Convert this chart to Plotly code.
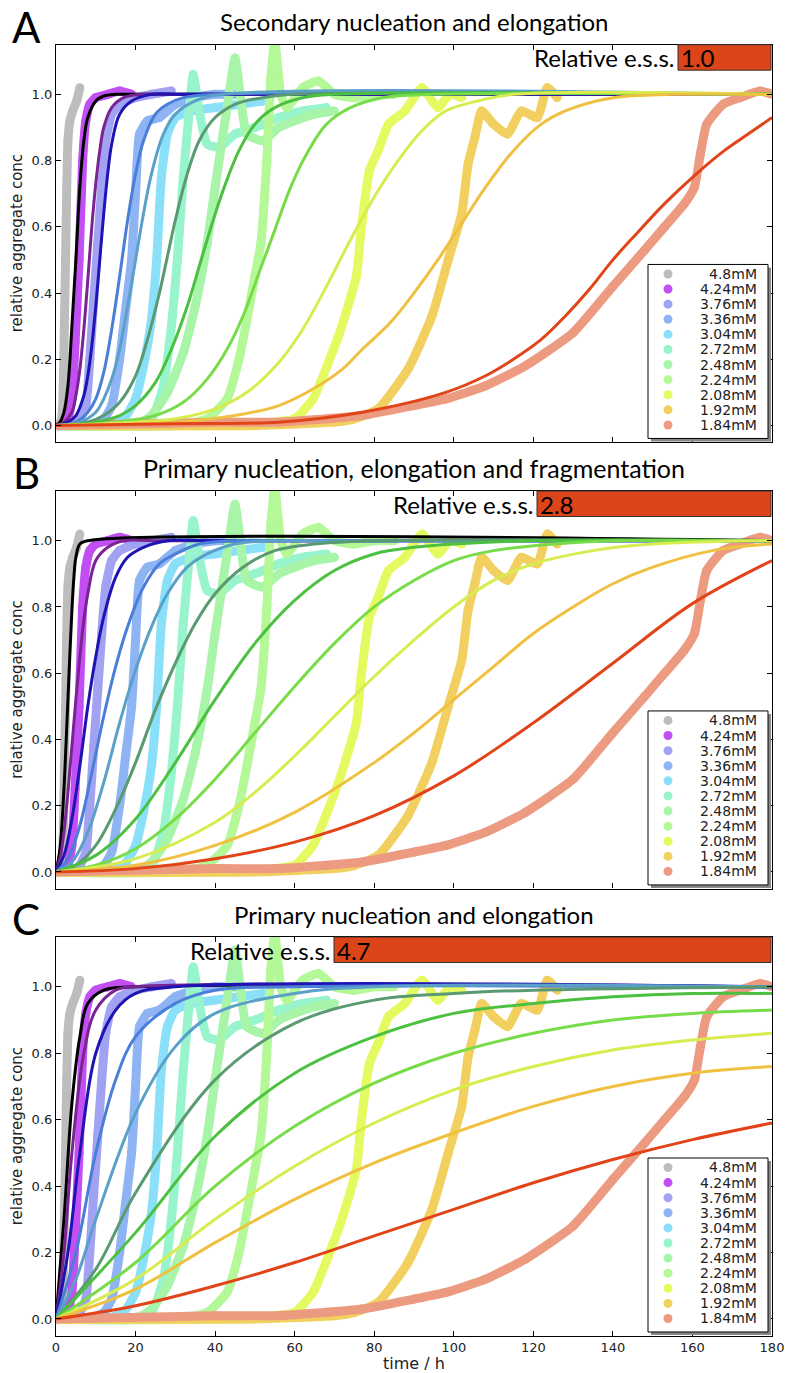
import plotly.graph_objects as go

# ---------------- data ----------------
conc_labels = ["4.8mM", "4.24mM", "3.76mM", "3.36mM", "3.04mM", "2.72mM",
               "2.48mM", "2.24mM", "2.08mM", "1.92mM", "1.84mM"]

data_colors = ["#bdbdbd", "#c24ff2", "#a2a2f2", "#8fb4f4", "#8ae0f8", "#98f4cc",
               "#a8f4a8", "#b4f898", "#e4fa60", "#f2d060", "#ec9a80"]
fit_colors = ["#000000", "#7a2494", "#1e14b4", "#4a7fd8", "#5aa0c8", "#5a9a72",
              "#4cc040", "#78dc48", "#d8ec50", "#f0c040", "#e04418"]

# measured data (t in h, relative aggregate conc)
exp_t = [
    [0, 0.7, 1.4, 1.8, 2.1, 2.4, 2.7, 3.0, 3.5, 4.2, 5.2, 6.0],
    [0, 2, 3, 4, 4.8, 5.8, 6.7, 7.5, 8.5, 10, 13, 16, 19],
    [0, 4, 6, 7.5, 8.5, 9.5, 10.5, 11.5, 12.5, 14, 16, 20, 24, 29],
    [0, 8, 12, 14, 16, 17.5, 19, 20, 21, 23, 26, 30, 35, 40, 45],
    [0, 12, 17, 20, 22, 24, 25.3, 26.5, 28, 30, 34, 40, 46, 52],
    [0, 18, 24, 27, 29, 30.5, 32, 33.5, 34.5, 36, 38, 41, 45, 50, 56, 62, 68],
    [0, 20, 24, 28, 32, 35, 38, 40, 42, 43.5, 45, 46.5, 48, 52, 56, 60, 65, 70],
    [0, 30, 38, 43, 46, 48, 50, 51.5, 53, 54, 55, 56.5, 58, 62, 66, 70, 75, 80, 85],
    [0, 40, 55, 60, 64.6, 71.3, 75.5, 76.7, 78.8, 81, 83.6, 87.7, 92, 96, 99, 102],
    [0, 50, 70, 75, 81, 88.5, 94.5, 98.6, 102, 103.6, 105.3, 107, 110, 113.5, 117, 121, 123.5, 126],
    [0, 40, 56, 77, 90, 98, 108, 118, 130, 140, 148, 153, 158, 160.5, 162, 163.6, 167.7, 172, 177, 180],
]
exp_v = [
    [0, 0.0, 0.02, 0.1, 0.3, 0.5, 0.72, 0.86, 0.92, 0.95, 0.98, 1.02],
    [0, 0.0, 0.02, 0.08, 0.25, 0.5, 0.8, 0.92, 0.97, 0.99, 1.0, 1.01, 1.0],
    [0, 0.0, 0.02, 0.06, 0.2, 0.38, 0.55, 0.72, 0.86, 0.94, 0.97, 0.99, 1.0, 1.01],
    [0, 0.0, 0.02, 0.06, 0.2, 0.35, 0.5, 0.7, 0.88, 0.92, 0.93, 0.97, 0.99, 1.0, 1.0],
    [0, 0.0, 0.02, 0.08, 0.18, 0.32, 0.5, 0.75, 0.88, 0.93, 0.95, 0.96, 0.97, 0.98],
    [0, 0.0, 0.02, 0.12, 0.3, 0.5, 0.75, 0.95, 1.06, 0.95, 0.85, 0.84, 0.88, 0.9, 0.93, 0.95, 0.96],
    [0, 0.0, 0.03, 0.1, 0.22, 0.36, 0.55, 0.72, 0.88, 1.0, 1.11, 0.98, 0.88, 0.86, 0.9, 0.92, 0.94, 0.95],
    [0, 0.0, 0.02, 0.08, 0.2, 0.32, 0.45, 0.55, 0.8, 1.05, 1.16, 1.0, 0.96, 1.02, 1.04, 1.0, 0.99, 1.0, 1.0],
    [0, 0.0, 0.01, 0.02, 0.08, 0.28, 0.45, 0.59, 0.77, 0.83, 0.91, 0.95, 1.02, 0.96, 1.0, 0.99],
    [0, 0.0, 0.01, 0.02, 0.05, 0.17, 0.33, 0.5, 0.64, 0.79, 0.87, 0.95, 0.91, 0.88, 0.95, 0.93, 1.02, 0.99],
    [0, 0.01, 0.01, 0.03, 0.06, 0.08, 0.12, 0.18, 0.28, 0.42, 0.53, 0.6, 0.67, 0.72, 0.82, 0.91, 0.97, 0.99, 1.01, 1.0],
]

# fitted model curves, panel A: secondary nucleation and elongation
fitA_t = [
    [0, 1, 2, 3, 4, 5, 6, 7, 8, 10, 12, 15, 20, 30, 180],
    [0, 2, 4, 5, 6, 7, 8, 9, 10, 11, 12, 14, 17, 22, 30, 180],
    [0, 3, 5, 7, 8, 9, 10, 11, 12, 13, 14, 16, 19, 24, 32, 180],
    [0, 5, 8, 10, 12, 14, 16, 18, 20, 22, 25, 28, 32, 40, 180],
    [0, 6, 10, 12, 14, 16, 18, 20, 22, 24, 27, 30, 35, 42, 180],
    [0, 8, 12, 16, 20, 23, 26, 28, 30, 33, 36, 40, 45, 52, 60, 180],
    [0, 10, 16, 20, 25, 29, 33, 36, 39, 42, 46, 50, 55, 62, 70, 180],
    [0, 15, 25, 32, 38, 43, 47, 51, 55, 59, 63, 68, 74, 82, 95, 180],
    [0, 20, 30, 40, 48, 56, 62, 68, 74, 80, 86, 92, 98, 106, 115, 180],
    [0, 30, 45, 56, 64.6, 72, 77, 84, 90, 96, 102, 108, 115, 122, 128, 140, 155, 180],
    [0, 30, 56, 77, 98, 108, 115, 122, 128, 134, 140, 146, 153, 161, 168, 174, 180],
]
fitA_v = [
    [0, 0.01, 0.04, 0.12, 0.3, 0.5, 0.72, 0.86, 0.93, 0.98, 0.995, 1, 1, 1, 1],
    [0, 0.01, 0.04, 0.09, 0.17, 0.29, 0.44, 0.6, 0.73, 0.83, 0.9, 0.96, 0.99, 1, 1, 1],
    [0, 0.01, 0.03, 0.09, 0.15, 0.24, 0.36, 0.5, 0.64, 0.76, 0.85, 0.94, 0.98, 1, 1, 1],
    [0, 0.01, 0.04, 0.08, 0.16, 0.29, 0.45, 0.62, 0.76, 0.86, 0.94, 0.97, 0.99, 1, 1],
    [0, 0.01, 0.04, 0.08, 0.14, 0.23, 0.36, 0.5, 0.64, 0.76, 0.88, 0.94, 0.98, 1, 1],
    [0, 0.01, 0.03, 0.07, 0.15, 0.26, 0.4, 0.51, 0.62, 0.76, 0.86, 0.93, 0.97, 0.99, 1, 1],
    [0, 0.01, 0.03, 0.06, 0.13, 0.23, 0.36, 0.48, 0.6, 0.71, 0.83, 0.91, 0.96, 0.99, 1, 1],
    [0, 0.01, 0.03, 0.07, 0.14, 0.23, 0.33, 0.46, 0.59, 0.72, 0.82, 0.91, 0.96, 0.99, 1, 1],
    [0, 0.01, 0.02, 0.05, 0.1, 0.19, 0.29, 0.42, 0.56, 0.69, 0.8, 0.89, 0.95, 0.98, 1, 1],
    [0, 0.01, 0.03, 0.06, 0.11, 0.17, 0.23, 0.31, 0.4, 0.5, 0.61, 0.72, 0.83, 0.91, 0.95, 0.99, 1, 1],
    [0, 0.005, 0.01, 0.04, 0.1, 0.15, 0.2, 0.26, 0.33, 0.41, 0.5, 0.58, 0.67, 0.76, 0.83, 0.88, 0.93],
]

# panel B: primary nucleation, elongation and fragmentation
fitB_t = [
    [0, 1, 2, 2.5, 3, 3.5, 4, 4.5, 5, 6, 8, 180],
    [0, 1, 2, 3, 4, 5, 6, 7, 8, 10, 13, 17, 25, 180],
    [0, 2, 4, 6, 8, 10, 12, 15, 18, 22, 28, 40, 180],
    [0, 3, 6, 9, 12, 15, 18, 22, 26, 30, 36, 45, 60, 180],
    [0, 4, 8, 12, 16, 20, 24, 28, 33, 38, 45, 55, 70, 180],
    [0, 5, 10, 15, 20, 25, 30, 35, 40, 47, 55, 65, 80, 180],
    [0, 10, 20, 30, 40, 50, 60, 70, 80, 90, 100, 120, 180],
    [0, 10, 20, 30, 40, 50, 60, 70, 80, 90, 100, 110, 125, 140, 180],
    [0, 20, 40, 50, 60, 70, 80, 90, 100, 110, 120, 135, 150, 180],
    [0, 20, 40, 60, 80, 90, 100, 110, 120, 130, 140, 150, 165, 180],
    [0, 20, 40, 60, 80, 100, 120, 140, 160, 180],
]
fitB_v = [
    [0, 0.07, 0.25, 0.38, 0.52, 0.66, 0.79, 0.89, 0.95, 0.99, 1, 1],
    [0, 0.04, 0.12, 0.24, 0.38, 0.52, 0.65, 0.76, 0.84, 0.94, 0.98, 1, 1, 1],
    [0, 0.05, 0.16, 0.32, 0.5, 0.65, 0.77, 0.89, 0.95, 0.98, 1, 1, 1],
    [0, 0.04, 0.14, 0.3, 0.47, 0.62, 0.74, 0.86, 0.93, 0.96, 0.99, 1, 1, 1],
    [0, 0.03, 0.12, 0.27, 0.45, 0.61, 0.74, 0.84, 0.92, 0.96, 0.99, 1, 1, 1],
    [0, 0.02, 0.08, 0.19, 0.33, 0.49, 0.63, 0.75, 0.84, 0.92, 0.97, 0.99, 1, 1],
    [0, 0.05, 0.16, 0.33, 0.52, 0.69, 0.82, 0.91, 0.96, 0.98, 0.99, 1, 1],
    [0, 0.02, 0.07, 0.16, 0.28, 0.42, 0.56, 0.69, 0.8, 0.88, 0.94, 0.97, 0.99, 1, 1],
    [0, 0.04, 0.15, 0.24, 0.35, 0.47, 0.59, 0.7, 0.8, 0.88, 0.93, 0.97, 0.99, 1],
    [0, 0.02, 0.08, 0.18, 0.33, 0.42, 0.52, 0.62, 0.72, 0.8, 0.87, 0.92, 0.97, 0.99],
    [0, 0.01, 0.04, 0.09, 0.17, 0.29, 0.45, 0.63, 0.81, 0.94],
]

# panel C: primary nucleation and elongation
fitC_t = [
    [0, 2, 4, 6, 8, 12, 20, 180],
    [0, 2, 4, 7, 10, 15, 20, 180],
    [0, 3, 6, 10, 15, 20, 30, 180],
    [0, 5, 10, 15, 20, 30, 40, 60, 180],
    [0, 5, 10, 20, 30, 40, 60, 80, 180],
    [0, 10, 20, 40, 60, 80, 100, 120, 180],
    [0, 20, 40, 60, 80, 100, 120, 140, 160, 180],
    [0, 20, 40, 60, 80, 100, 120, 140, 160, 180],
    [0, 20, 40, 60, 80, 100, 120, 140, 160, 180],
    [0, 20, 40, 60, 80, 100, 120, 140, 160, 180],
    [0, 20, 40, 60, 80, 100, 120, 140, 160, 180],
]
fitC_v = [
    [0, 0.3, 0.65, 0.85, 0.95, 0.99, 1, 1],
    [0, 0.2, 0.5, 0.8, 0.93, 0.99, 1, 1],
    [0, 0.2, 0.5, 0.8, 0.93, 0.98, 1, 1],
    [0, 0.2, 0.5, 0.72, 0.85, 0.95, 0.99, 1, 1],
    [0, 0.12, 0.3, 0.62, 0.82, 0.92, 0.98, 1, 1],
    [0, 0.15, 0.38, 0.72, 0.89, 0.96, 0.98, 0.99, 1.0],
    [0, 0.26, 0.55, 0.74, 0.85, 0.92, 0.95, 0.97, 0.98, 0.98],
    [0, 0.17, 0.4, 0.58, 0.71, 0.8, 0.86, 0.9, 0.92, 0.93],
    [0, 0.12, 0.3, 0.46, 0.59, 0.69, 0.76, 0.81, 0.84, 0.86],
    [0, 0.09, 0.23, 0.36, 0.47, 0.56, 0.64, 0.7, 0.74, 0.76],
    [0, 0.04, 0.1, 0.17, 0.25, 0.33, 0.41, 0.48, 0.54, 0.59],
]

panel_titles = ["Secondary nucleation and elongation",
                "Primary nucleation, elongation and fragmentation",
                "Primary nucleation and elongation"]
panel_letters = ["A", "B", "C"]
ess_values = ["1.0", "2.8", "4.7"]

x_ticks = [0, 20, 40, 60, 80, 100, 120, 140, 160, 180]
y_ticks = [0.0, 0.2, 0.4, 0.6, 0.8, 1.0]

# ---------------- layout constants (pixels) ----------------
W, H = 785, 1373
PLOT_L, PLOT_R = 56, 772
PANEL_TOP = [44.7, 491.0, 937.0]
PANEL_BOT = [442.0, 888.5, 1335.6]
ESS_BOX_W = [93, 234, 437]
TITLE_Y = [22, 468, 914]
TITLE_SIZE = [24, 25, 24]
Y_RANGE = [-0.05, 1.15]

def fx(px):
    return px / W

def fy(py):
    return 1 - py / H

fits = [(fitA_t, fitA_v), (fitB_t, fitB_v), (fitC_t, fitC_v)]

fig = go.Figure()
shapes = []
annotations = []
TXT_FONT = "Lato, 'Open Sans', sans-serif"
MPL_FONT = "'DejaVu Sans', sans-serif"

for p in range(3):
    xa = "x" if p == 0 else f"x{p+1}"
    ya = "y" if p == 0 else f"y{p+1}"
    # measured data
    for i in range(len(conc_labels)):
        fig.add_trace(go.Scatter(
            x=exp_t[i], y=exp_v[i], xaxis=xa, yaxis=ya,
            mode="lines+markers", line=dict(color=data_colors[i], width=9, shape="spline", smoothing=0.5),
            marker=dict(color=data_colors[i], size=9),
            showlegend=False, hoverinfo="skip"))
    # fits
    ft, fv = fits[p]
    for i in range(len(conc_labels)):
        fig.add_trace(go.Scatter(
            x=ft[i], y=fv[i], xaxis=xa, yaxis=ya, mode="lines",
            line=dict(color=fit_colors[i], width=3, shape="spline", smoothing=1.0),
            showlegend=False, hoverinfo="skip"))

    top, bot = PANEL_TOP[p], PANEL_BOT[p]
    axis_common = dict(showgrid=False, zeroline=False, showline=True, linecolor="black",
                       linewidth=1.2, mirror="ticks", ticks="inside", ticklen=5,
                       tickcolor="black", tickwidth=1, automargin=False)
    xkey = "xaxis" if p == 0 else f"xaxis{p+1}"
    ykey = "yaxis" if p == 0 else f"yaxis{p+1}"
    fig.update_layout(**{
        xkey: dict(domain=[fx(PLOT_L), fx(PLOT_R)], range=[0, 180], tickvals=x_ticks,
                   ticktext=[str(v) for v in x_ticks], showticklabels=(p == 2),
                   anchor=ya, tickfont=dict(family=MPL_FONT, size=13, color="#222"), **axis_common),
        ykey: dict(domain=[fy(bot), fy(top)], range=Y_RANGE, tickvals=y_ticks,
                   ticktext=[f"{v:.1f}" for v in y_ticks], anchor=xa,
                   tickfont=dict(family=MPL_FONT, size=13, color="#222"), **axis_common),
    })

    # panel letter and title
    annotations.append(dict(x=fx(26), y=fy(TITLE_Y[p] - 22), xref="paper", yref="paper",
                            text=panel_letters[p], showarrow=False, xanchor="center", yanchor="top",
                            font=dict(family="Lato, sans-serif", size=42, color="black")))
    annotations.append(dict(x=fx((PLOT_L + PLOT_R) / 2), y=fy(TITLE_Y[p]), xref="paper", yref="paper",
                            text=panel_titles[p], showarrow=False, xanchor="center", yanchor="middle",
                            font=dict(family=TXT_FONT, size=TITLE_SIZE[p], color="black")))
    # y label
    annotations.append(dict(x=fx(17), y=fy((top + bot) / 2), xref="paper", yref="paper",
                            text="relative aggregate conc", textangle=-90, showarrow=False,
                            xanchor="center", yanchor="middle",
                            font=dict(family=MPL_FONT, size=15, color="#222")))

    # relative e.s.s. box
    box_r = 771
    box_l = box_r - ESS_BOX_W[p]
    shapes.append(dict(type="rect", xref="paper", yref="paper",
                       x0=fx(box_l), x1=fx(box_r), y0=fy(top + 25.5), y1=fy(top),
                       fillcolor="#dc4419", line=dict(color="#333", width=1), layer="above"))
    annotations.append(dict(x=fx(box_l + 1), y=fy(top + 13), xref="paper", yref="paper",
                            text=ess_values[p], showarrow=False, xanchor="left", yanchor="middle",
                            font=dict(family=TXT_FONT, size=24, color="black")))
    annotations.append(dict(x=fx(box_l - 2), y=fy(top + 13), xref="paper", yref="paper",
                            text="Relative e.s.s.", showarrow=False, xanchor="right", yanchor="middle",
                            font=dict(family=TXT_FONT, size=24, color="black")))

    # legend (manual)
    zero_y = bot - 0.05 / 1.2 * (bot - top)
    lg_top, lg_bot = zero_y - 161, zero_y + 13
    lg_l, lg_r = 648, 768
    shapes.append(dict(type="rect", xref="paper", yref="paper",
                       x0=fx(lg_l + 3), x1=fx(lg_r + 3), y0=fy(lg_bot + 3), y1=fy(lg_top + 3),
                       fillcolor="#888888", line=dict(width=0), layer="above"))
    shapes.append(dict(type="rect", xref="paper", yref="paper",
                       x0=fx(lg_l), x1=fx(lg_r), y0=fy(lg_bot), y1=fy(lg_top),
                       fillcolor="white", line=dict(color="black", width=1), layer="above"))
    for i, lab in enumerate(conc_labels):
        ry = lg_top + 9.5 + 15.1 * i
        shapes.append(dict(type="circle", xref="paper", yref="paper",
                           x0=fx(668 - 4.5), x1=fx(668 + 4.5), y0=fy(ry + 4.5), y1=fy(ry - 4.5),
                           fillcolor=data_colors[i], line=dict(width=0), layer="above"))
        annotations.append(dict(x=fx(759), y=fy(ry), xref="paper", yref="paper", text=lab,
                                showarrow=False, xanchor="right", yanchor="middle",
                                font=dict(family=MPL_FONT, size=14, color="#222")))

# x axis label
annotations.append(dict(x=fx((PLOT_L + PLOT_R) / 2), y=fy(1363), xref="paper", yref="paper",
                        text="time / h", showarrow=False, xanchor="center", yanchor="middle",
                        font=dict(family=MPL_FONT, size=16, color="#222")))

fig.update_layout(width=W, height=H, margin=dict(l=0, r=0, t=0, b=0),
                  paper_bgcolor="white", plot_bgcolor="white",
                  shapes=shapes, annotations=annotations, showlegend=False)

fig.write_html("out.html")
